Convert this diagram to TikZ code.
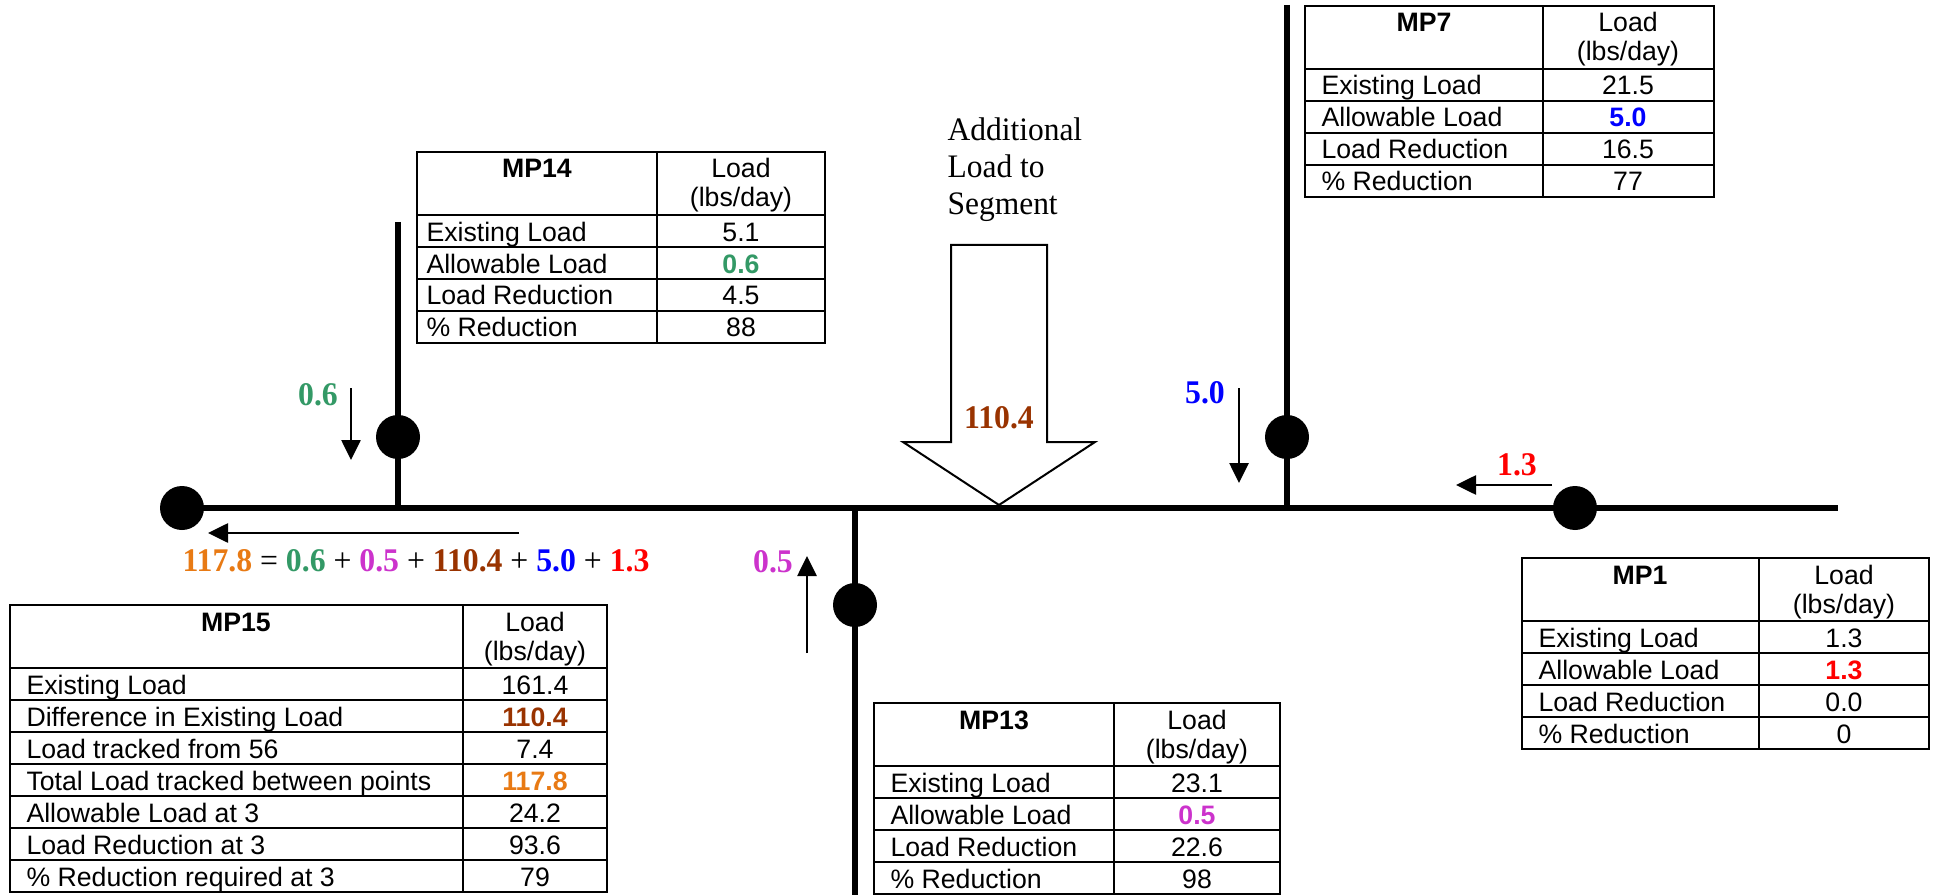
\documentclass[tikz,border=0pt]{standalone}
\usepackage{xcolor}
\usepackage{fontspec}
\setmainfont{Liberation Serif}[FakeStretch=0.96]
\newfontfamily\tabfont{Liberation Sans}
\usepackage{tikz}
\usetikzlibrary{arrows.meta}

\definecolor{grn}{RGB}{51,153,102}
\definecolor{mag}{RGB}{204,51,204}
\definecolor{brn}{RGB}{153,51,0}
\definecolor{orng}{RGB}{232,122,20}
\definecolor{blu}{RGB}{0,0,255}
\definecolor{rd}{RGB}{255,0,0}

\tikzset{
  pipe/.style={line width=2.2pt},
  mpt/.style={circle,fill=black,inner sep=0pt,minimum size=16.5pt},
  flow/.style={line width=0.75pt,-{Triangle[length=7.5pt,width=7.2pt]}},
  tabline/.style={line width=0.8pt},
  lbl/.style={font=\tabfont\fontsize{10}{12}\selectfont,anchor=base west,inner sep=0pt},
  val/.style={font=\tabfont\fontsize{10}{12}\selectfont,anchor=base,inner sep=0pt},
  num/.style={font=\fontsize{12.4}{14}\selectfont\bfseries,inner sep=0pt},
}

\begin{document}
\begin{tikzpicture}[x=0.375pt,y=0.375pt,yscale=-1,xscale=1]
\useasboundingbox (0,0) rectangle (1936,895);
% points on the segment
\node[mpt] (p15) at (182,508) {};
\node[mpt] (p14) at (398,437) {};
\node[mpt] (p13) at (855,605) {};
\node[mpt] (p7) at (1287,437) {};
\node[mpt] (p1) at (1575,508) {};
\coordinate (rend) at (1838,508);
\coordinate (t14) at (398,222);
\coordinate (j14) at (398,508);
\coordinate (j13) at (855,508);
\coordinate (b13) at (855,897);
\coordinate (t7) at (1287,5);
\coordinate (j7) at (1287,508);
%Straight Lines
\draw[pipe] (p15.center) -- (rend);
\draw[pipe] (t14) -- (j14);
\draw[pipe] (j13) -- (b13);
\draw[pipe] (t7) -- (j7);
%Shape: Down Arrow
\draw[line width=0.75pt,fill=white] (951,245) -- (1047,245) -- (1047,442) -- (1095,442) -- (999,505) -- (903,442) -- (951,442) -- cycle;
% Text Node
\node[anchor=north west,align=left,inner sep=0pt,font=\fontsize{12.3}{13.9}\selectfont] (addtxt) at (947,117) {Additional\\Load to\\Segment};
\node[num,text=brn] (nadd) at (999,418) {110.4};
% small load arrows
\coordinate (a14s) at (351,388);
\coordinate (a14e) at (351,460);
\coordinate (sums) at (519,533);
\coordinate (sume) at (208,533);
\coordinate (a13s) at (807,653);
\coordinate (a13e) at (807,556);
\coordinate (a7s) at (1239,388);
\coordinate (a7e) at (1239,483);
\coordinate (a1s) at (1552,485);
\coordinate (a1e) at (1456,485);
\draw[flow] (a14s) -- (a14e);
\draw[flow] (sums) -- (sume);
\draw[flow] (a13s) -- (a13e);
\draw[flow] (a7s) -- (a7e);
\draw[flow] (a1s) -- (a1e);
% Text Node
\node[num,text=grn] (n14) at (318,395) {0.6};
\node[num,text=mag] (n13) at (773,562) {0.5};
\node[num,text=blu] (n7) at (1205,393) {5.0};
\node[num,text=rd] (n1) at (1517,465) {1.3};
\node[num] (nsum) at (416,561) {{\color{orng}117.8} \mdseries= {\bfseries\color{grn}0.6} + {\bfseries\color{mag}0.5} + {\bfseries\color{brn}110.4} + {\bfseries\color{blu}5.0} + {\bfseries\color{rd}1.3}};

%Shape: Table MP14
\draw[tabline] (417,152) rectangle (825,343);
\draw[tabline] (657,152) -- (657,343) (417,215) -- (825,215) (417,247) -- (825,247) (417,279) -- (825,279) (417,311) -- (825,311);
\node[val] (mp14) at (537,178) {\textbf{MP14}};
\node[val] (mp14u) at (741,178) {Load};
\node[val] (mp14l) at (741,207) {(lbs/day)};
\node[lbl] (mp14r1) at (426,241) {Existing Load};
\node[val] (mp14v1) at (741,241) {5.1};
\node[lbl] (mp14r2) at (426,273) {Allowable Load};
\node[val,text=grn] (mp14v2) at (741,273) {\textbf{0.6}};
\node[lbl] (mp14r3) at (426,305) {Load Reduction};
\node[val] (mp14v3) at (741,305) {4.5};
\node[lbl] (mp14r4) at (426,337) {\% Reduction};
\node[val] (mp14v4) at (741,337) {88};

%Shape: Table MP7
\draw[tabline] (1305,6) rectangle (1714,197);
\draw[tabline] (1543,6) -- (1543,197) (1305,69) -- (1714,69) (1305,101) -- (1714,101) (1305,133) -- (1714,133) (1305,165) -- (1714,165);
\node[val] (mp7) at (1424,32) {\textbf{MP7}};
\node[val] (mp7u) at (1628,32) {Load};
\node[val] (mp7l) at (1628,61) {(lbs/day)};
\node[lbl] (mp7r1) at (1321,95) {Existing Load};
\node[val] (mp7v1) at (1628,95) {21.5};
\node[lbl] (mp7r2) at (1321,127) {Allowable Load};
\node[val,text=blu] (mp7v2) at (1628,127) {\textbf{5.0}};
\node[lbl] (mp7r3) at (1321,159) {Load Reduction};
\node[val] (mp7v3) at (1628,159) {16.5};
\node[lbl] (mp7r4) at (1321,191) {\% Reduction};
\node[val] (mp7v4) at (1628,191) {77};

%Shape: Table MP1
\draw[tabline] (1522,558) rectangle (1929,749);
\draw[tabline] (1759,558) -- (1759,749) (1522,621) -- (1929,621) (1522,653) -- (1929,653) (1522,685) -- (1929,685) (1522,717) -- (1929,717);
\node[val] (mp1) at (1640,584) {\textbf{MP1}};
\node[val] (mp1u) at (1844,584) {Load};
\node[val] (mp1l) at (1844,613) {(lbs/day)};
\node[lbl] (mp1r1) at (1538,647) {Existing Load};
\node[val] (mp1v1) at (1844,647) {1.3};
\node[lbl] (mp1r2) at (1538,679) {Allowable Load};
\node[val,text=rd] (mp1v2) at (1844,679) {\textbf{1.3}};
\node[lbl] (mp1r3) at (1538,711) {Load Reduction};
\node[val] (mp1v3) at (1844,711) {0.0};
\node[lbl] (mp1r4) at (1538,743) {\% Reduction};
\node[val] (mp1v4) at (1844,743) {0};

%Shape: Table MP13
\draw[tabline] (874,703) rectangle (1280,894);
\draw[tabline] (1114,703) -- (1114,894) (874,766) -- (1280,766) (874,798) -- (1280,798) (874,830) -- (1280,830) (874,862) -- (1280,862);
\node[val] (mp13) at (994,729) {\textbf{MP13}};
\node[val] (mp13u) at (1197,729) {Load};
\node[val] (mp13l) at (1197,758) {(lbs/day)};
\node[lbl] (mp13r1) at (890,792) {Existing Load};
\node[val] (mp13v1) at (1197,792) {23.1};
\node[lbl] (mp13r2) at (890,824) {Allowable Load};
\node[val,text=mag] (mp13v2) at (1197,824) {\textbf{0.5}};
\node[lbl] (mp13r3) at (890,856) {Load Reduction};
\node[val] (mp13v3) at (1197,856) {22.6};
\node[lbl] (mp13r4) at (890,888) {\% Reduction};
\node[val] (mp13v4) at (1197,888) {98};

%Shape: Table MP15
\draw[tabline] (10,605) rectangle (607,892);
\draw[tabline] (463,605) -- (463,892) (10,668) -- (607,668) (10,700) -- (607,700) (10,732) -- (607,732) (10,764) -- (607,764) (10,796) -- (607,796) (10,828) -- (607,828) (10,860) -- (607,860);
\node[val] (mp15) at (236,631) {\textbf{MP15}};
\node[val] (mp15u) at (535,631) {Load};
\node[val] (mp15l) at (535,660) {(lbs/day)};
\node[lbl] (mp15r1) at (26,694) {Existing Load};
\node[val] (mp15v1) at (535,694) {161.4};
\node[lbl] (mp15r2) at (26,726) {Difference in Existing Load};
\node[val,text=brn] (mp15v2) at (535,726) {\textbf{110.4}};
\node[lbl] (mp15r3) at (26,758) {Load tracked from 56};
\node[val] (mp15v3) at (535,758) {7.4};
\node[lbl] (mp15r4) at (26,790) {Total Load tracked between points};
\node[val,text=orng] (mp15v4) at (535,790) {\textbf{117.8}};
\node[lbl] (mp15r5) at (26,822) {Allowable Load at 3};
\node[val] (mp15v5) at (535,822) {24.2};
\node[lbl] (mp15r6) at (26,854) {Load Reduction at 3};
\node[val] (mp15v6) at (535,854) {93.6};
\node[lbl] (mp15r7) at (26,886) {\% Reduction required at 3};
\node[val] (mp15v7) at (535,886) {79};
\end{tikzpicture}
\end{document}
